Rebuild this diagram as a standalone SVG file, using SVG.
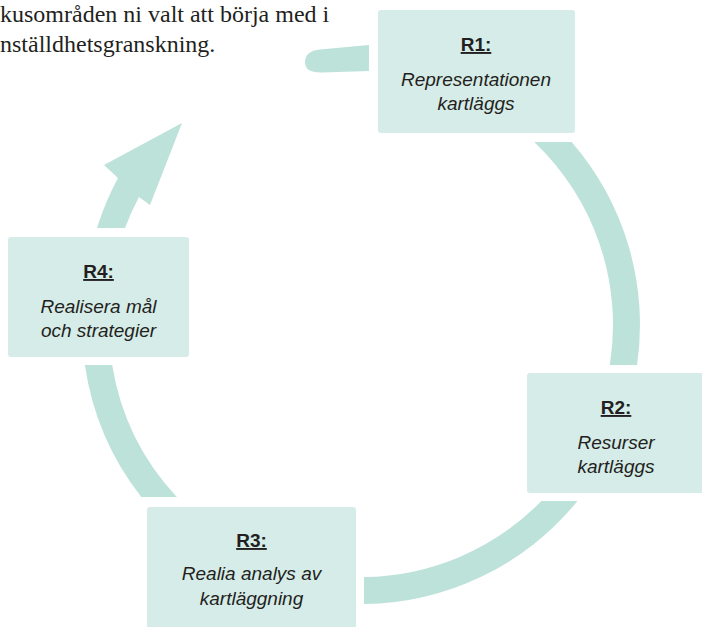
<svg xmlns="http://www.w3.org/2000/svg" width="702" height="627" viewBox="0 0 702 627">
<style>
.box{fill:#d6ece8;}
.arc{fill:#bde2d9;}
.ttl{font-family:"Liberation Sans",Arial,sans-serif;font-weight:bold;font-size:19px;fill:#231f20;text-anchor:middle;text-decoration:underline;}
.lbl{font-family:"Liberation Sans",Arial,sans-serif;font-style:italic;font-size:19px;fill:#231f20;text-anchor:middle;}
.body{font-family:"Liberation Serif","Times New Roman",serif;font-size:24px;fill:#231f20;}
</style>
<rect width="702" height="627" fill="#ffffff"/>
<g id="intro-text">
<text class="body" x="0" y="22">kusområden ni valt att börja med i</text>
<text class="body" x="0" y="52">nställdhetsgranskning.</text>
</g>
<g id="connectors">
<path class="arc" d="M369,45 L369,71 L322,72.5 Q305,73 305,62 Q305,51 320,49.5 Z"/>
<path class="arc" d="M534.2,142 L571.6,142 A279 279 0 0 1 637.1,365 L609.8,365 A252 252 0 0 0 534.2,142 Z"/>
<path class="arc" d="M541.4,501 L577.5,501 A279 279 0 0 1 364,604 L364,577 A252 252 0 0 0 541.4,501 Z"/>
<path class="arc" d="M176.8,497 L141.3,497 A279 279 0 0 1 84.9,365 L112.2,365 A252 252 0 0 0 176.8,497 Z"/>
<path class="arc" d="M97,228 A279 279 0 0 1 118,178 L104,165 L182,123 L150,205 L139,197 A252 252 0 0 0 125,228 Z"/>
</g>
<g id="R1">
<rect class="box" x="378" y="10" width="197" height="123" rx="3"/>
<text class="ttl" x="476" y="51">R1:</text>
<text class="lbl" x="476" y="86">Representationen</text>
<text class="lbl" x="476" y="110">kartläggs</text>
</g>
<g id="R2">
<rect class="box" x="527" y="373" width="180" height="120" rx="3"/>
<text class="ttl" x="616" y="414">R2:</text>
<text class="lbl" x="616" y="449">Resurser</text>
<text class="lbl" x="616" y="473">kartläggs</text>
</g>
<g id="R3">
<rect class="box" x="147" y="507" width="209" height="125" rx="3"/>
<text class="ttl" x="251.5" y="547">R3:</text>
<text class="lbl" x="251.5" y="580">Realia analys av</text>
<text class="lbl" x="251.5" y="605">kartläggning</text>
</g>
<g id="R4">
<rect class="box" x="8" y="237" width="181" height="120" rx="3"/>
<text class="ttl" x="98.5" y="278">R4:</text>
<text class="lbl" x="98.5" y="313">Realisera mål</text>
<text class="lbl" x="98.5" y="337">och strategier</text>
</g>
</svg>
